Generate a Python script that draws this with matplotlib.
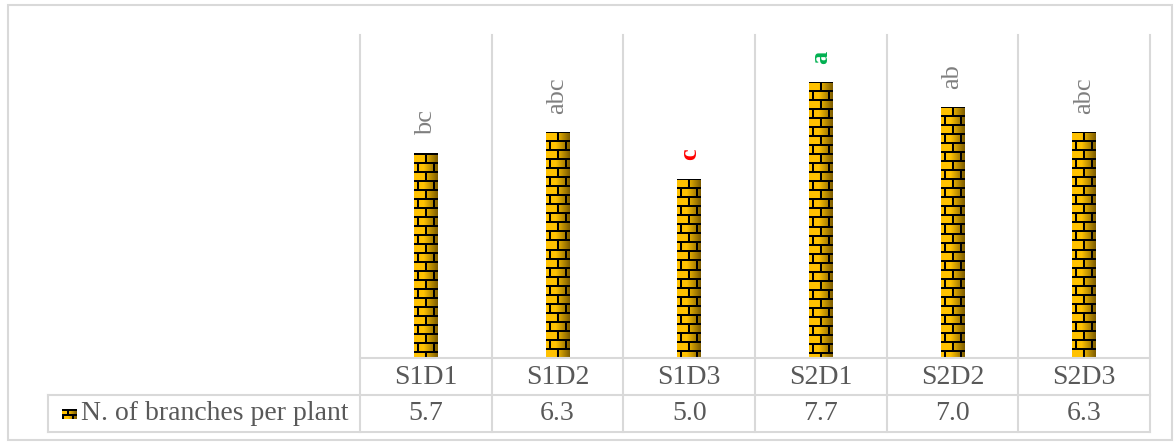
import numpy as np
import matplotlib
matplotlib.use("Agg")
import matplotlib.pyplot as plt
from matplotlib.lines import Line2D
from matplotlib.patches import Rectangle
from matplotlib.transforms import blended_transform_factory

# —— data ——
categories = ["S1D1", "S1D2", "S1D3", "S2D1", "S2D2", "S2D3"]
branches = [5.7, 6.3, 5.0, 7.7, 7.0, 6.3]
letters = ["bc", "abc", "c", "a", "ab", "abc"]
series_name = "N. of branches per plant"

# letters that get highlighted (index -> style)
letter_style = {2: dict(color="#FF0000", fontweight="bold"),
                3: dict(color="#00B050", fontweight="bold")}

W, H = 1175, 445
GRID = "#D9D9D9"
TXT = "#595959"
FONT = ["Liberation Serif", "DejaVu Serif"]
FS = 20

plt.rcParams["font.family"] = FONT


def fx(px):
    return px / W


def fy(py):
    return 1 - py / H


def brick_texture(w, h, brick_h=9, brick_w=16, line=2):
    """RGB array of yellow bricks with black joints and a right-side shade."""
    t = np.linspace(0, 1, w)
    gold = np.array([1.0, 0.76, 0.0])
    dark = np.array([0.50, 0.37, 0.0])
    k = np.clip((t - 0.40) / 0.60, 0, 1)[:, None]
    row = gold * (1 - k) + dark * k
    img = np.repeat(row[None, :, :], h, axis=0)
    yy, xx = np.mgrid[0:h, 0:w]
    course = yy // brick_h
    mortar_h = (yy % brick_h) < line
    shift = (course % 2) * (brick_w // 2)
    mortar_v = ((xx + shift + 5) % brick_w) < line
    img[mortar_h | mortar_v] = 0.0
    return img


fig = plt.figure(figsize=(W / 100, H / 100), dpi=100)
ax = fig.add_axes([fx(360), fy(358), fx(1150) - fx(360), fy(35) - fy(358)])
ax.set_xlim(-0.5, len(categories) - 0.5)
ax.set_ylim(0, 9)
ax.set_xticks([])
ax.set_yticks([])
for s in ax.spines.values():
    s.set_visible(False)

bar_w = 0.18
bars = ax.bar(range(len(categories)), branches, width=bar_w, color="none")
fig.canvas.draw()
for b in bars:
    x0, y0 = b.get_x(), b.get_y()
    x1, y1 = x0 + b.get_width(), y0 + b.get_height()
    (px0, py0), (px1, py1) = ax.transData.transform([(x0, y0), (x1, y1)])
    tex = brick_texture(max(int(round(px1 - px0)), 2), max(int(round(py1 - py0)), 2))
    im = ax.imshow(tex, extent=(x0, x1, y0, y1), origin="upper",
                   aspect="auto", interpolation="nearest", zorder=2)
    im.set_clip_path(b)

ax.set_xlim(-0.5, len(categories) - 0.5)
ax.set_ylim(0, 9)

# significance letters above bars
for i, (v, lab) in enumerate(zip(branches, letters)):
    style = dict(color="#7F7F7F", fontweight="normal")
    style.update(letter_style.get(i, {}))
    ax.annotate(lab, (i, v), xytext=(0, 13), textcoords="offset points",
                rotation=90, ha="center", va="bottom", fontsize=19, **style)

# table + grid lines
bx = blended_transform_factory(ax.transData, fig.transFigure)
edges = np.arange(len(categories) + 1) - 0.5
for e in edges:
    fig.add_artist(Line2D([e, e], [fy(35), fy(432)], transform=bx,
                          color=GRID, lw=1.5))
fig.add_artist(Line2D([fx(360), fx(1150)], [fy(358), fy(358)],
                      transform=fig.transFigure, color=GRID, lw=1.5))
for py in (395, 432):
    fig.add_artist(Line2D([fx(48), fx(1150)], [fy(py), fy(py)],
                          transform=fig.transFigure, color=GRID, lw=1.5))
fig.add_artist(Line2D([fx(48), fx(48)], [fy(395), fy(432)],
                      transform=fig.transFigure, color=GRID, lw=1.5))

# outer frame
fig.add_artist(Rectangle((fx(8), fy(440)), fx(1172) - fx(8), fy(5) - fy(440),
                         transform=fig.transFigure, fill=False,
                         edgecolor=GRID, lw=1.5))

for i, (c, v) in enumerate(zip(categories, branches)):
    fig.text(i, fy(377), c, transform=bx, ha="center", va="center",
             fontsize=FS, color=TXT)
    fig.text(i, fy(414), f"{v:.1f}", transform=bx, ha="center",
             va="center", fontsize=FS, color=TXT)

# legend key + series name
kx0, kx1, ky0, ky1 = 62, 77, 419, 409
key_ax = fig.add_axes([fx(kx0), fy(ky0), fx(kx1) - fx(kx0), fy(ky1) - fy(ky0)])
key_ax.imshow(brick_texture(15, 10, brick_h=5, brick_w=10), aspect="auto",
              interpolation="nearest")
key_ax.axis("off")
fig.text(fx(81), fy(414), series_name, ha="left", va="center",
         fontsize=FS, color=TXT)

fig.savefig("out.png", dpi=100)
